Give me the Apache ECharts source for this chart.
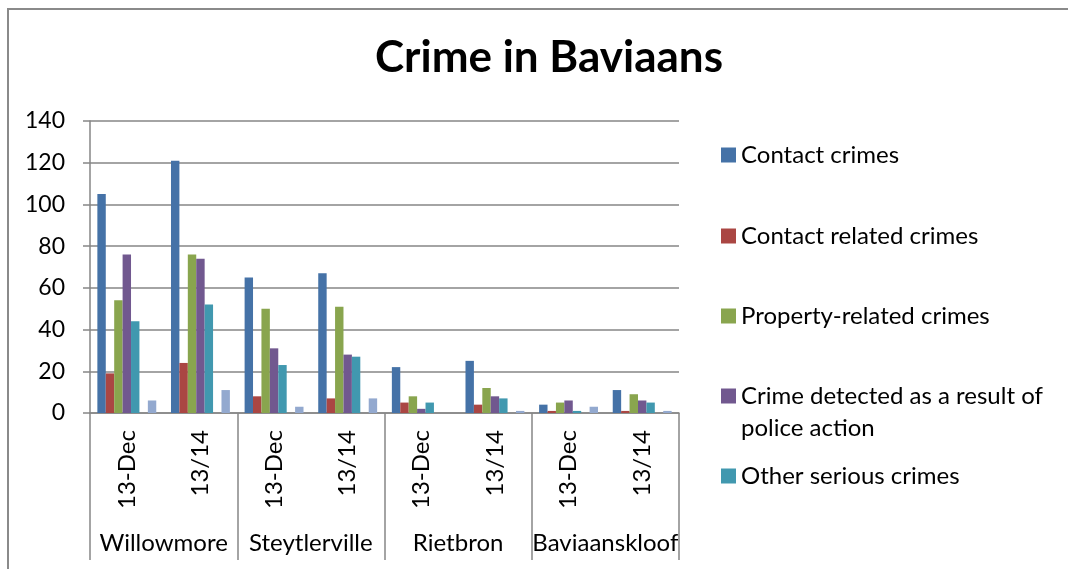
<!DOCTYPE html>
<html>
<head>
<meta charset="utf-8">
<title>Crime in Baviaans</title>
<script src="https://cdn.jsdelivr.net/npm/echarts@6/dist/echarts.min.js"></script>
<style>
  html, body { margin: 0; padding: 0; background: #fff; overflow: hidden; width: 1068px; height: 569px; }
  #frame {
    position: absolute; left: 7px; top: 8px; right: 0; bottom: 0;
    border-left: 2px solid #8a8a8a; border-top: 2px solid #8a8a8a;
  }
  #chart { position: absolute; left: 0; top: 0; width: 1068px; height: 569px; }
</style>
</head>
<body>
<div id="frame"></div>
<div id="chart"></div>
<script>
// Police stations and reporting periods
const stations = ['Willowmore', 'Steytlerville', 'Rietbron', 'Baviaanskloof'];
const periods = ['13-Dec', '13/14', '13-Dec', '13/14', '13-Dec', '13/14', '13-Dec', '13/14'];

// Counts per station/period, in the same order as `periods`
const contactCrimes      = [105, 121, 65, 67, 22, 25, 4, 11];
const contactRelated     = [19, 24, 8, 7, 5, 4, 1, 1];
const propertyRelated    = [54, 76, 50, 51, 8, 12, 5, 9];
const policeAction       = [76, 74, 31, 28, 2, 8, 6, 6];
const otherSerious       = [44, 52, 23, 27, 5, 7, 1, 5];
const series6Values      = [0, 0, 0, 0, 0, 0, 0, 0];
const series7Values      = [6, 11, 3, 7, 0, 1, 3, 1];

const yTicks = { min: 0, max: 140, interval: 20 };

const seriesDefs = [
  { name: 'Contact crimes', data: contactCrimes, color: '#4572A7' },
  { name: 'Contact related crimes', data: contactRelated, color: '#AA4643' },
  { name: 'Property-related crimes', data: propertyRelated, color: '#89A54E' },
  { name: 'Crime detected as a result of police action', data: policeAction, color: '#71588F' },
  { name: 'Other serious crimes', data: otherSerious, color: '#4198AF' },
  { name: 'Series6', data: series6Values, color: '#DB843D' },
  { name: 'Series7', data: series7Values, color: '#93A9CF' }
];

const FONT = 'Lato, "Open Sans", sans-serif';
const GRID_COLOR = '#868686';

// One legend block per visible entry, stacked down the right-hand side.
// The wrapped entry gets a leading blank line so its first line sits level with the swatch.
const legendTops = [139, 220, 300, 348, 460];
const legends = seriesDefs.slice(0, 5).map((s, i) => {
  const multi = i === 3;
  return {
    data: [s.name],
    left: 721,
    top: legendTops[i],
    padding: 0,
    orient: 'vertical',
    icon: 'rect',
    itemWidth: 15,
    itemHeight: 15,
    formatter: multi ? () => ' \nCrime detected as a result of\npolice action' : undefined,
    textStyle: {
      fontFamily: FONT,
      fontSize: 24,
      color: '#000',
      lineHeight: 32
    }
  };
});

const chart = echarts.init(document.getElementById('chart'), null, { renderer: 'canvas' });

chart.setOption({
  animation: false,
  backgroundColor: 'transparent',
  title: {
    text: 'Crime in Baviaans',
    left: 544,
    textAlign: 'center',
    top: 31,
    textStyle: { fontFamily: FONT, fontSize: 44, fontWeight: 'bold', color: '#000' }
  },
  legend: legends,
  grid: { left: 90, right: 389, top: 121, bottom: 156, containLabel: false },
  xAxis: [
    {
      type: 'category',
      data: periods,
      position: 'bottom',
      boundaryGap: true,
      axisLine: { show: true, lineStyle: { color: GRID_COLOR, width: 1.5 } },
      axisTick: { show: false },
      axisLabel: {
        rotate: 90, margin: 17, interval: 0,
        fontFamily: FONT, fontSize: 24, color: '#000'
      },
      splitLine: { show: false }
    },
    {
      type: 'category',
      data: stations,
      position: 'bottom',
      boundaryGap: true,
      axisLine: { show: false },
      axisTick: {
        show: true, interval: 0, length: 147,
        lineStyle: { color: GRID_COLOR, width: 1.5 }
      },
      axisLabel: {
        margin: 118, interval: 0,
        fontFamily: FONT, fontSize: 24, color: '#000'
      },
      splitLine: { show: false }
    }
  ],
  yAxis: {
    type: 'value',
    min: yTicks.min,
    max: yTicks.max,
    interval: yTicks.interval,
    axisLine: { show: true, lineStyle: { color: GRID_COLOR, width: 1.5 } },
    axisTick: { show: true, length: 7, lineStyle: { color: GRID_COLOR, width: 1.5 } },
    axisLabel: { margin: 25, fontFamily: FONT, fontSize: 23, color: '#000' },
    splitLine: { show: true, lineStyle: { color: GRID_COLOR, width: 1.5 } }
  },
  series: seriesDefs.map(s => ({
    name: s.name,
    type: 'bar',
    xAxisIndex: 0,
    data: s.data,
    barGap: '0%',
    barCategoryGap: '20%',
    itemStyle: { color: s.color }
  }))
});
</script>
</body>
</html>
